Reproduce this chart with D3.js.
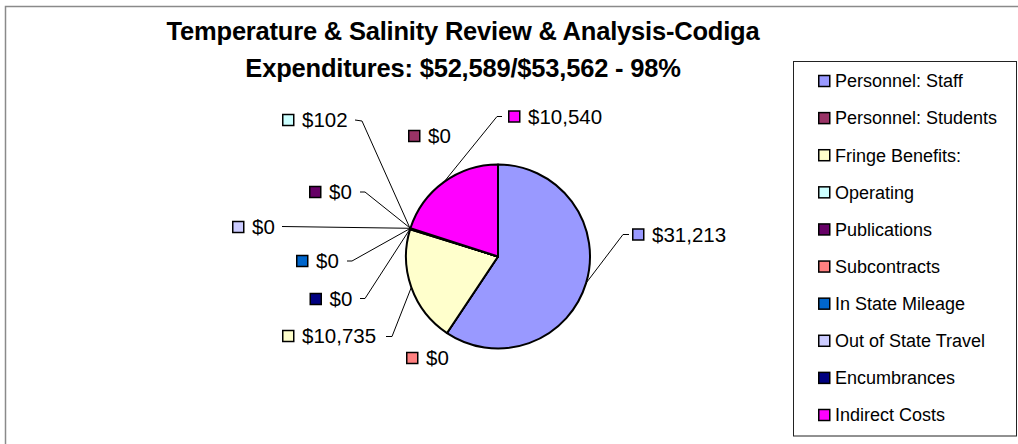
<!DOCTYPE html>
<html>
<head>
<meta charset="utf-8">
<script src="https://cdn.jsdelivr.net/npm/d3@7/dist/d3.min.js"></script>
<style>
  html, body { margin: 0; padding: 0; background: #fff; }
  svg { display: block; font-family: "Liberation Sans", Arial, sans-serif; }
</style>
</head>
<body>
<svg id="chart" width="1018" height="444"></svg>
<script>
// Budget categories and spending to date
const categories = [
  "Personnel: Staff", "Personnel: Students", "Fringe Benefits:", "Operating",
  "Publications", "Subcontracts", "In State Mileage", "Out of State Travel",
  "Encumbrances", "Indirect Costs"
];
const values = [31213, 0, 10735, 102, 0, 0, 0, 0, 0, 10540];
const titleLines = [
  "Temperature & Salinity Review & Analysis-Codiga",
  "Expenditures: $52,589/$53,562 - 98%"
];

// Fill colours, one per category
const colors = [
  "#9999FF", "#993366", "#FFFFCC", "#CCFFFF", "#660066",
  "#FF8080", "#0066CC", "#CCCCFF", "#000080", "#FF00FF"
];

// Label placement around the pie: marker box left edge, row centre,
// and the elbow points of the leader line (empty = no leader)
const labelLayout = [
  { x: 632, y: 234.5, elbow: [[623, 234.5], [629, 234.5]] },
  { x: 408, y: 136,   elbow: [] },
  { x: 282, y: 336,   elbow: [[392, 336.5], [386, 336.5]] },
  { x: 282, y: 120,   elbow: [[362, 121], [355, 120]] },
  { x: 309, y: 192,   elbow: [[365, 192], [360, 192]] },
  { x: 406, y: 358,   elbow: [] },
  { x: 296, y: 261,   elbow: [[352, 261], [347, 261]] },
  { x: 232, y: 227,   elbow: [[282, 226.5]] },
  { x: 309.5, y: 299, elbow: [[365, 298.5], [360, 298.5]] },
  { x: 508, y: 116.5, elbow: [[497, 116.5], [502, 116.5]] }
];

const svg = d3.select("#chart");
const fmt = d3.format("$,");

// Outer chart frame
svg.append("rect")
  .attr("x", 5.5).attr("y", 6.5)
  .attr("width", 1100).attr("height", 600)
  .attr("fill", "none")
  .attr("stroke", "#8a8a8a")
  .attr("stroke-width", 1.5);

// Title
svg.append("g").selectAll("text")
  .data(titleLines)
  .join("text")
  .attr("x", 463)
  .attr("y", (d, i) => 40 + i * 37)
  .attr("text-anchor", "middle")
  .attr("font-size", 25.5)
  .attr("font-weight", "bold")
  .attr("letter-spacing", -0.2)
  .attr("fill", "#000")
  .text(d => d);

// Pie
const cx = 498, cy = 256.5, r = 92;
const pie = d3.pie().sort(null).value(d => d)(values);
const arc = d3.arc().innerRadius(0).outerRadius(r);
const edgeArc = d3.arc().innerRadius(r).outerRadius(r);

const pieG = svg.append("g").attr("transform", `translate(${cx},${cy})`);
pieG.selectAll("path")
  .data(pie)
  .join("path")
  .attr("d", arc)
  .attr("fill", (d, i) => colors[i])
  .attr("stroke", "#000")
  .attr("stroke-width", 2)
  .attr("stroke-linejoin", "round");

// Leader lines from slice edge to its label
const line = d3.line();
svg.append("g").selectAll("path")
  .data(pie.filter((d, i) => labelLayout[i].elbow.length))
  .join("path")
  .attr("d", d => {
    const [ex, ey] = edgeArc.centroid(d);
    const pts = [[cx + ex, cy + ey], ...labelLayout[d.index].elbow];
    return line(pts);
  })
  .attr("fill", "none")
  .attr("stroke", "#000")
  .attr("stroke-width", 1);

// Value labels
const labelG = svg.append("g").selectAll("g")
  .data(pie)
  .join("g")
  .attr("transform", (d, i) => `translate(${labelLayout[i].x},${labelLayout[i].y})`);
labelG.append("rect")
  .attr("x", 0.75).attr("y", -5.5)
  .attr("width", 11).attr("height", 11)
  .attr("fill", (d, i) => colors[i])
  .attr("stroke", "#000")
  .attr("stroke-width", 1.5);
labelG.append("text")
  .attr("x", 20)
  .attr("y", 7.3)
  .attr("font-size", 20.5)
  .attr("fill", "#000")
  .text(d => fmt(d.value));

// Legend
const legend = svg.append("g");
legend.append("rect")
  .attr("x", 793.5).attr("y", 61.5)
  .attr("width", 223).attr("height", 374.5)
  .attr("fill", "#fff")
  .attr("stroke", "#222")
  .attr("stroke-width", 1);
const rowY = d3.scalePoint().domain(categories).range([81, 415]);
const items = legend.selectAll("g.item")
  .data(categories)
  .join("g")
  .attr("class", "item")
  .attr("transform", d => `translate(818,${rowY(d)})`);
items.append("rect")
  .attr("x", 0.75).attr("y", -5.5)
  .attr("width", 11).attr("height", 11)
  .attr("fill", (d, i) => colors[i])
  .attr("stroke", "#000")
  .attr("stroke-width", 1.5);
items.append("text")
  .attr("x", 17)
  .attr("y", 6.3)
  .attr("font-size", 18)
  .attr("fill", "#000")
  .text(d => d);
</script>
</body>
</html>
